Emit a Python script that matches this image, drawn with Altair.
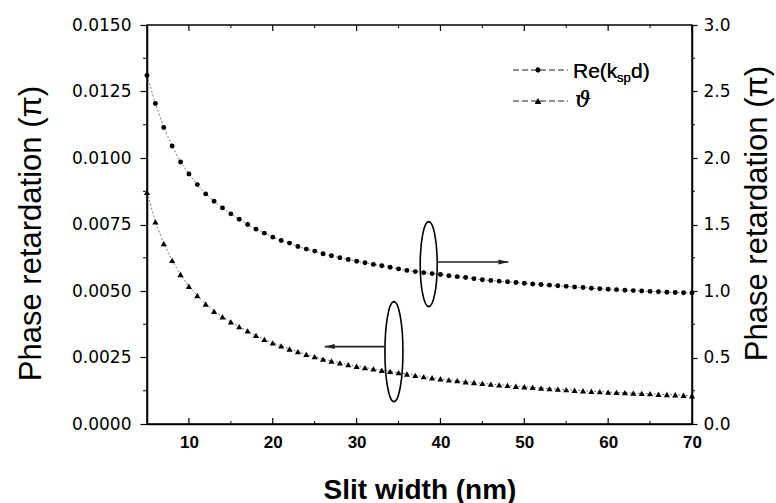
import altair as alt
import pandas as pd

# ---- data -------------------------------------------------------------
slit_width = list(range(5, 71))  # nm

# phase retardation of the slit mode, left axis (units of pi)
theta = [
    0.00871, 0.00760, 0.00678, 0.00615, 0.00562, 0.00518, 0.00483, 0.00451,
    0.00424, 0.00403, 0.00384, 0.00366, 0.00350, 0.00333, 0.00318, 0.00305,
    0.00294, 0.00282, 0.00272, 0.00262, 0.00253, 0.00244, 0.00237, 0.00230,
    0.00223, 0.00217, 0.00212, 0.00207, 0.00202, 0.00198, 0.00193, 0.00188,
    0.00183, 0.00178, 0.00174, 0.00170, 0.00166, 0.00163, 0.00159, 0.00156,
    0.00153, 0.00150, 0.00147, 0.00145, 0.00142, 0.00140, 0.00138, 0.00135,
    0.00133, 0.00131, 0.00129, 0.00127, 0.00125, 0.00123, 0.00122, 0.00120,
    0.00119, 0.00118, 0.00116, 0.00115, 0.00114, 0.00112, 0.00111, 0.00110,
    0.00108, 0.00106,
]

# Re(k_sp d), right axis (units of pi)
re_ksp_d = [
    2.62, 2.41, 2.23, 2.09, 1.97, 1.88, 1.80, 1.73, 1.675, 1.625, 1.58, 1.54,
    1.50, 1.465, 1.435, 1.405, 1.38, 1.36, 1.335, 1.315, 1.30, 1.28, 1.265,
    1.25, 1.237, 1.224, 1.212, 1.20, 1.19, 1.179, 1.166, 1.155, 1.146, 1.138,
    1.131, 1.124, 1.115, 1.108, 1.101, 1.093, 1.085, 1.079, 1.074, 1.069,
    1.064, 1.058, 1.053, 1.049, 1.044, 1.039, 1.035, 1.030, 1.026, 1.021,
    1.017, 1.013, 1.010, 1.006, 1.003, 1.000, 0.997, 0.994, 0.991, 0.989,
    0.987, 0.985,
]

x_ticks = [10, 20, 30, 40, 50, 60, 70]
x_minor = [15, 25, 35, 45, 55, 65]
left_ticks = [0.0, 0.0025, 0.005, 0.0075, 0.01, 0.0125, 0.015]
left_minor = [0.00125, 0.00375, 0.00625, 0.00875, 0.01125, 0.01375]
right_ticks = [0.0, 0.5, 1.0, 1.5, 2.0, 2.5, 3.0]
right_minor = [0.25, 0.75, 1.25, 1.75, 2.25, 2.75]

# annotation ellipses (centre, left-axis units) and arrows
ellipse_x = [38.6, 34.45]
ellipse_y = [0.00601, 0.00272]
arrow_x_start = [39.6, 33.4]
arrow_x_end = [48.1, 26.2]
arrow_y = [0.00609, 0.00291]

# ---- layout -----------------------------------------------------------
W, H = 545, 399
FONT = "Liberation Sans"
TICK_FONT = "DejaVu Sans"

x_sc = alt.Scale(domain=[5, 70], nice=False, zero=False)
yl_sc = alt.Scale(domain=[0, 0.015], nice=False)
yr_sc = alt.Scale(domain=[0, 3], nice=False)

series = pd.DataFrame({"w": slit_width, "theta": theta, "re": re_ksp_d})
base = alt.Chart(series)

x_axis = alt.Axis(
    values=x_ticks, ticks=False, grid=False, title="Slit width (nm)",
    labelFont=FONT, labelFontSize=17, labelFontWeight="bold", labelColor="black",
    labelPadding=10, labelFlush=False,
    titleFont=FONT, titleFontSize=28, titleFontWeight="bold", titleColor="black",
    titleY=66, titleBaseline="middle",
    domainColor="black", domainWidth=1.5,
)
left_axis = alt.Axis(
    orient="left", values=left_ticks, format=".4f", grid=False,
    tickSize=7, tickColor="black", tickWidth=1.2,
    labelFont=TICK_FONT, labelFontSize=17, labelColor="black", labelPadding=9,
    title="Phase retardation (π)", titleFont=FONT, titleFontSize=31,
    titleFontWeight="normal", titleColor="black", titleAngle=270,
    titleX=-116, titleY=208, titleAlign="center", titleBaseline="middle",
    domainColor="black", domainWidth=1.5,
)
right_axis = alt.Axis(
    orient="right", values=right_ticks, format=".1f", grid=False,
    tickSize=5, tickColor="black", tickWidth=1.2,
    labelFont=TICK_FONT, labelFontSize=17, labelColor="black", labelPadding=6,
    title="Phase retardation (π)", titleFont=FONT, titleFontSize=31,
    titleFontWeight="normal", titleColor="black", titleAngle=270,
    titleX=65, titleY=188, titleAlign="center", titleBaseline="middle",
    domainColor="black", domainWidth=1.5,
)


def xq(field):
    # every layer carries the same x axis definition so the shared axis merges cleanly
    return alt.X(field, type="quantitative", scale=x_sc, axis=x_axis)


# ---- series -----------------------------------------------------------
line_style = dict(stroke="#7a7a7a", strokeWidth=1, strokeDash=[2, 2])

tri_line = base.mark_line(**line_style).encode(
    x=xq("w"), y=alt.Y("theta:Q", scale=yl_sc, axis=None))
tri_pts = base.mark_point(shape="triangle-up", filled=True, color="black",
                          size=38, opacity=1).encode(
    x=xq("w"), y=alt.Y("theta:Q", scale=yl_sc, axis=left_axis))

re_line = base.mark_line(**line_style).encode(
    x=xq("w"), y=alt.Y("re:Q", scale=yr_sc, axis=None))
re_pts = base.mark_point(shape="circle", filled=True, color="black",
                         size=24, opacity=1).encode(
    x=xq("w"), y=alt.Y("re:Q", scale=yr_sc, axis=right_axis))

# ---- minor / inward ticks --------------------------------------------
def rule_df(vals):
    return alt.Chart(pd.DataFrame({"v": vals}))

left_minor_ticks = rule_df(left_minor).mark_rule(color="black", strokeWidth=1).encode(
    y=alt.Y("v:Q", scale=yl_sc, axis=None), x=alt.value(-4), x2=alt.value(0))
right_minor_ticks = rule_df(right_minor).mark_rule(color="black", strokeWidth=1).encode(
    y=alt.Y("v:Q", scale=yr_sc, axis=None), x=alt.value(W), x2=alt.value(W + 3))
bottom_major = rule_df(x_ticks).mark_rule(color="black", strokeWidth=1.2).encode(
    x=xq("v"), y=alt.value(H), y2=alt.value(H - 6))
bottom_minor = rule_df(x_minor).mark_rule(color="black", strokeWidth=1).encode(
    x=xq("v"), y=alt.value(H), y2=alt.value(H - 3))
top_major = rule_df(x_ticks).mark_rule(color="black", strokeWidth=1.2).encode(
    x=xq("v"), y=alt.value(0), y2=alt.value(6))
top_minor = rule_df(x_minor).mark_rule(color="black", strokeWidth=1).encode(
    x=xq("v"), y=alt.value(0), y2=alt.value(3))

# ---- ellipses and arrows ---------------------------------------------
def ellipse_path(a):
    k = 0.5523
    ka = round(k * a, 4)
    return (f"M0,-1 C{ka},-1 {a},-{k} {a},0 C{a},{k} {ka},1 0,1 "
            f"C{-ka},1 {-a},{k} {-a},0 C{-a},-{k} {-ka},-1 0,-1 Z")


def ellipse(i, height, ratio):
    df = pd.DataFrame({"x": [ellipse_x[i]], "y": [ellipse_y[i]]})
    return alt.Chart(df).mark_point(
        shape=ellipse_path(ratio), filled=False, stroke="black",
        strokeWidth=1.6, opacity=1, size=height * height,
    ).encode(x=xq("x"), y=alt.Y("y:Q", scale=yl_sc, axis=None))


def arrow(i, head_path):
    df = pd.DataFrame({"x0": [arrow_x_start[i]], "x1": [arrow_x_end[i]],
                       "y": [arrow_y[i]]})
    c = alt.Chart(df)
    shaft = c.mark_rule(color="#222222", strokeWidth=1.6).encode(
        x=xq("x0"), x2="x1", y=alt.Y("y:Q", scale=yl_sc, axis=None))
    head = c.mark_point(shape=head_path, filled=True, color="#222222",
                        size=100, opacity=1).encode(
        x=xq("x1"), y=alt.Y("y:Q", scale=yl_sc, axis=None))
    return [shaft, head]


ell_right = ellipse(0, 85, 0.2)
ell_left = ellipse(1, 100, 0.18)
arrow_right = arrow(0, "M0,0 L-2,-0.5 L-2,0.5 Z")
arrow_left = arrow(1, "M0,0 L2,-0.5 L2,0.5 Z")

# ---- legend ------------------------------------------------------------
legend_entries = ["Re(k_sp d)", "ϑ"]
leg = alt.Chart(pd.DataFrame({"entry": legend_entries}))
leg_dash = dict(color="#6a6a6a", strokeWidth=1.1, strokeDash=[6, 3])

leg_line1 = leg.mark_rule(**leg_dash).encode(
    x=alt.value(366), x2=alt.value(421), y=alt.value(45))
leg_mark1 = leg.mark_point(shape="circle", filled=True, color="black",
                           size=24, opacity=1).encode(x=alt.value(391), y=alt.value(45))
leg_line2 = leg.mark_rule(**leg_dash).encode(
    x=alt.value(366), x2=alt.value(421), y=alt.value(76))
leg_mark2 = leg.mark_point(shape="triangle-up", filled=True, color="black",
                           size=38, opacity=1).encode(x=alt.value(391), y=alt.value(76))

txt = dict(align="left", baseline="middle", font=FONT, color="black")
leg_t1a = leg.mark_text(text="Re(k", fontSize=21, **txt).encode(
    x=alt.value(426), y=alt.value(47))
leg_t1b = leg.mark_text(text="sp", fontSize=13, **txt).encode(
    x=alt.value(470), y=alt.value(53))
leg_t1c = leg.mark_text(text="d)", fontSize=21, **txt).encode(
    x=alt.value(484), y=alt.value(47))
leg_t2 = leg.mark_text(text="ϑ", fontSize=22, fontStyle="italic", align="left",
                       baseline="middle", font="DejaVu Serif", color="black").encode(
    x=alt.value(428), y=alt.value(75))

layers = [
    tri_line, re_line, tri_pts, re_pts,
    left_minor_ticks, right_minor_ticks, bottom_major, bottom_minor,
    top_major, top_minor,
    ell_right, ell_left, *arrow_right, *arrow_left,
    leg_line1, leg_mark1, leg_line2, leg_mark2,
    leg_t1a, leg_t1b, leg_t1c, leg_t2,
]

chart = (
    alt.layer(*layers)
    .resolve_scale(y="independent")
    .properties(
        width=W, height=H,
        autosize=alt.AutoSizeParams(type="none"),
        padding={"left": 147, "top": 25, "right": 84, "bottom": 79},
        background="white",
    )
    .configure_view(stroke="black", strokeWidth=1.5)
)

chart.save("out.html", embed_options={"renderer": "svg", "actions": False})
